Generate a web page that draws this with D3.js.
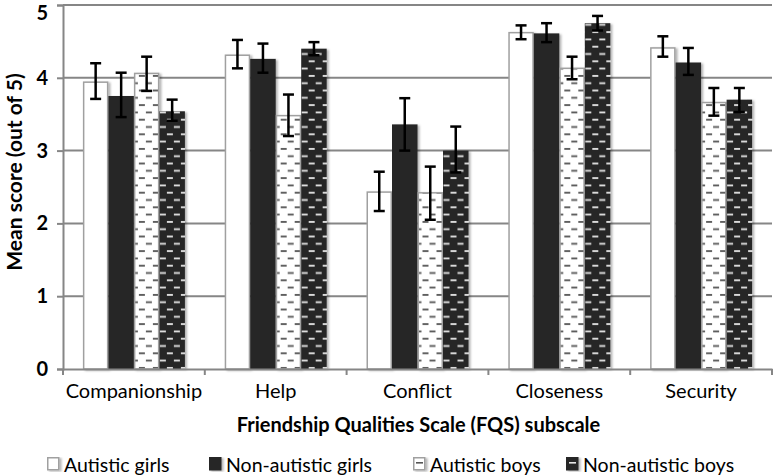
<!DOCTYPE html>
<html>
<head>
<meta charset="utf-8">
<script src="https://cdn.jsdelivr.net/npm/d3@7"></script>
<style>
  body { margin: 0; background: #fff; }
  text { font-family: Lato, "Open Sans", sans-serif; fill: #000; }
</style>
</head>
<body>
<div id="chart"></div>
<script>
const categories = ["Companionship", "Help", "Conflict", "Closeness", "Security"];
const groups = ["Autistic girls", "Non-autistic girls", "Autistic boys", "Non-autistic boys"];
// mean scores per group (same order as categories)
const autisticGirls    = [3.94, 4.31, 2.43, 4.62, 4.41];
const nonAutisticGirls = [3.75, 4.26, 3.36, 4.61, 4.21];
const autisticBoys     = [4.06, 3.48, 2.42, 4.13, 3.66];
const nonAutisticBoys  = [3.54, 4.40, 3.00, 4.75, 3.70];
// error bar low / high
const errLow  = [[3.71, 4.13, 2.17, 4.53, 4.29], [3.46, 4.07, 3.00, 4.49, 4.04], [3.82, 3.20, 2.05, 3.98, 3.48], [3.41, 4.31, 2.70, 4.65, 3.53]];
const errHigh = [[4.20, 4.52, 2.71, 4.72, 4.57], [4.07, 4.47, 3.72, 4.75, 4.41], [4.29, 3.77, 2.78, 4.29, 3.86], [3.70, 4.49, 3.33, 4.85, 3.86]];
const yTicks = [0, 1, 2, 3, 4, 5];

const W = 774, H = 476;
const m = { top: 5, left: 63, right: 2, bottom: 107 };

const svg = d3.select("#chart").append("svg").attr("width", W).attr("height", H);
const defs = svg.append("defs");

// hatch patterns
function dashPattern(id, bg, fg) {
  const p = defs.append("pattern").attr("id", id)
    .attr("patternUnits", "userSpaceOnUse").attr("width", 14).attr("height", 14.6);
  p.append("rect").attr("width", 14).attr("height", 14.6).attr("fill", bg);
  p.append("rect").attr("x", 0).attr("y", 2).attr("width", 6).attr("height", 1.8).attr("fill", fg);
  p.append("rect").attr("x", 7).attr("y", 9.3).attr("width", 6).attr("height", 1.8).attr("fill", fg);
}
dashPattern("dashLight", "#fff", "#555");
dashPattern("dashDark", "#262626", "#e6e6e6");

defs.append("filter").attr("id", "shadow").attr("x", "-20%").attr("y", "-5%").attr("width", "160%").attr("height", "120%")
  .append("feDropShadow").attr("dx", 2).attr("dy", 1).attr("stdDeviation", 1.3)
  .attr("flood-color", "#000").attr("flood-opacity", 0.3);

const styles = [
  { fill: "#fff", stroke: "#a0a0a0" },
  { fill: "#262626", stroke: "none" },
  { fill: "url(#dashLight)", stroke: "#a0a0a0" },
  { fill: "url(#dashDark)", stroke: "none" }
];

const series = [autisticGirls, nonAutisticGirls, autisticBoys, nonAutisticBoys];

const x = d3.scaleBand().domain(categories).range([m.left, W - m.right]);
const xInner = d3.scaleBand().domain(groups).range([0, 102]);
const y = d3.scaleLinear().domain([0, 5]).range([H - m.bottom, m.top]);

// gridlines
svg.append("g").selectAll("line").data(yTicks.slice(1)).join("line")
  .attr("x1", m.left).attr("x2", W - m.right)
  .attr("y1", d => y(d)).attr("y2", d => y(d))
  .attr("stroke", "#868686").attr("stroke-width", 2);

// y axis
const yAxis = svg.append("g").attr("transform", `translate(${m.left},0)`)
  .call(d3.axisLeft(y).tickValues(yTicks).tickSize(6).tickPadding(9).tickFormat(d3.format("d")));
yAxis.select(".domain").attr("stroke", "#868686").attr("stroke-width", 2);
yAxis.selectAll(".tick line").attr("stroke", "#868686").attr("stroke-width", 2);
yAxis.selectAll("text").style("font-size", "20px").style("font-weight", "bold");
yAxis.selectAll(".tick").filter(d => d === 5).select("text").attr("dy", "0.72em");

// bars
const barG = svg.append("g");
categories.forEach((c, ci) => {
  const g = barG.append("g").attr("transform", `translate(${x(c) + (x.bandwidth() - 102) / 2},0)`);
  groups.forEach((grp, gi) => {
    const v = series[gi][ci];
    const inset = styles[gi].stroke === "none" ? 0 : 0.75;
    g.append("rect")
      .attr("x", xInner(grp) + inset)
      .attr("y", y(v))
      .attr("width", xInner.bandwidth() - 2 * inset)
      .attr("height", y(0) - y(v))
      .attr("fill", styles[gi].fill)
      .attr("stroke", styles[gi].stroke)
      .attr("stroke-width", 1.5)
      .attr("filter", "url(#shadow)");
  });
  // error bars
  groups.forEach((grp, gi) => {
    const cx = xInner(grp) + xInner.bandwidth() / 2;
    const lo = y(errLow[gi][ci]), hi = y(errHigh[gi][ci]);
    g.append("line").attr("x1", cx).attr("x2", cx).attr("y1", lo).attr("y2", hi)
      .attr("stroke", "#000").attr("stroke-width", 2.5);
    [lo, hi].forEach(yy => g.append("line").attr("x1", cx - 5.5).attr("x2", cx + 5.5)
      .attr("y1", yy).attr("y2", yy).attr("stroke", "#000").attr("stroke-width", 2.5));
  });
});

// x axis
const xAxis = svg.append("g").attr("transform", `translate(0,${y(0)})`)
  .call(d3.axisBottom(x).tickSize(0).tickPadding(15));
xAxis.select(".domain").attr("stroke", "#868686").attr("stroke-width", 2);
xAxis.selectAll("text").style("font-size", "20px");
svg.append("g").selectAll("line").data(categories.concat([null])).join("line")
  .attr("x1", (d, i) => m.left + i * x.bandwidth()).attr("x2", (d, i) => m.left + i * x.bandwidth())
  .attr("y1", y(0)).attr("y2", y(0) + 6)
  .attr("stroke", "#868686").attr("stroke-width", 2);

// axis titles
svg.append("text").attr("x", (m.left + W - m.right) / 2 + 1).attr("y", 432)
  .attr("text-anchor", "middle").style("font-size", "20px").style("font-weight", "bold")
  .text("Friendship Qualities Scale (FQS) subscale");
svg.append("text").attr("transform", "translate(22,172) rotate(-90)")
  .attr("text-anchor", "middle").style("font-size", "21px").style("font-weight", "bold")
  .text("Mean score (out of 5)");

// legend
const legendX = [47, 209, 413, 566];
const legend = svg.append("g");
groups.forEach((grp, gi) => {
  const lg = legend.append("g").attr("transform", `translate(${legendX[gi]},457)`);
  const dark = gi % 2 === 1;
  lg.append("rect").attr("x", 0.75).attr("y", 0.75).attr("width", 11).attr("height", 12)
    .attr("fill", dark ? "#262626" : "#fff")
    .attr("stroke", dark ? "#262626" : "#a0a0a0").attr("stroke-width", 1.5)
    .attr("filter", "url(#shadow)");
  if (gi >= 2) {
    lg.append("rect").attr("x", 3).attr("y", 5).attr("width", 7).attr("height", 1.6)
      .attr("fill", dark ? "#e6e6e6" : "#555");
  }
  lg.append("text").attr("x", 17).attr("y", 14.5).style("font-size", "19.5px").text(grp);
});
</script>
</body>
</html>
